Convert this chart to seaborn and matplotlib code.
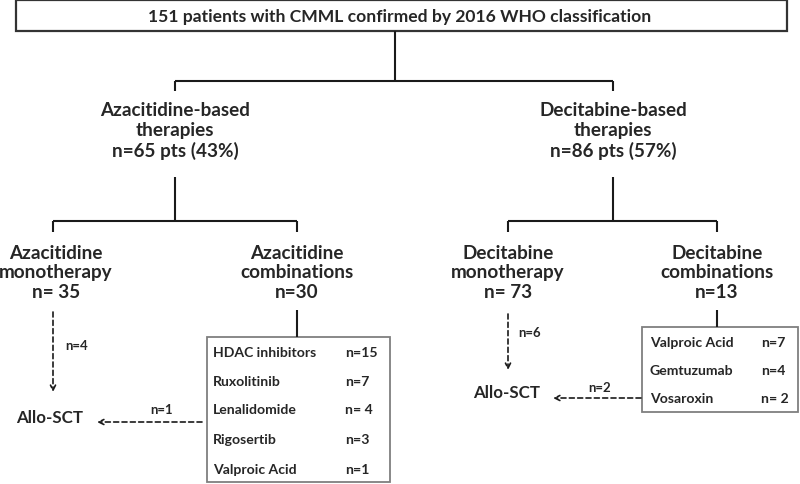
import matplotlib
matplotlib.use("Agg")
import matplotlib.pyplot as plt
import seaborn as sns
from matplotlib.patches import Rectangle

sns.set_theme(style="white")
plt.rcParams["font.family"] = ["Lato", "DejaVu Sans"]

# Datos del diagrama de flujo (CMML, clasificacion OMS 2016)
total_pts = 151
arm_names = ["Azacitidine", "Decitabine"]
arm_n = [65, 86]
arm_pct = [43, 57]
mono_n = [35, 73]
combo_n = [30, 13]
sct_from_mono = [4, 6]
sct_from_combo = [1, 2]
aza_combo_drugs = ["HDAC inhibitors", "Ruxolitinib", "Lenalidomide", "Rigosertib", "Valproic Acid"]
aza_combo_n = [15, 7, 4, 3, 1]
aza_combo_sep = ["", "", " ", "", ""]
dec_combo_drugs = ["Valproic Acid", "Gemtuzumab", "Vosaroxin"]
dec_combo_n = [7, 4, 2]
dec_combo_sep = ["", "", " "]

# Layout (coordenadas en pixeles, y hacia abajo)
arm_x = [175, 613]
mono_x = [53, 508]
mono_text_x = [56, 508]
combo_x = [297, 717]
mono_sep = [" ", " "]
combo_boxes = [(207, 338, 183, 145, 213, 345, [353, 382, 410, 440, 470]),
               (642, 328, 156, 85, 650, 761, [343, 371, 399])]
sct_pos = [(50, 418), (507, 393)]
LINE = "#1a1a1a"
TITLE = 12.6
NODE = 13.6
ALLO = 12.2
SMALL = 10.1


def line(ax, xs, ys, **kw):
    ax.plot(xs, ys, color=LINE, lw=1.5, solid_capstyle="butt", **kw)


def arrow(ax, start, end):
    ax.annotate("", xy=end, xytext=start,
                arrowprops=dict(arrowstyle="->", linestyle=(0, (3, 2)), lw=1.2,
                                color=LINE, shrinkA=0, shrinkB=0, mutation_scale=9))


def draw_flowchart():
    fig = plt.figure(figsize=(8, 4.85), dpi=100)
    ax = fig.add_axes([0, 0, 1, 1])
    ax.set_xlim(0, 800)
    ax.set_ylim(485, 0)
    ax.axis("off")

    # caja principal
    ax.add_patch(Rectangle((16, 1), 771, 31, fill=False, ec="#333333", lw=1.6))
    ax.text(400, 17, f"{total_pts} patients with CMML confirmed by 2016 WHO classification",
            ha="center", va="center", fontsize=TITLE, fontweight="bold")

    line(ax, [395, 395], [32, 82])
    line(ax, [arm_x[0], arm_x[1]], [82, 82])
    for i in range(2):
        x = arm_x[i]
        line(ax, [x, x], [82, 92])
        ax.text(x, 131, f"{arm_names[i]}-based\ntherapies\nn={arm_n[i]} pts ({arm_pct[i]}%)",
                ha="center", va="center", fontsize=NODE, fontweight="bold", linespacing=1.2)
        line(ax, [x, x], [178, 222])
        line(ax, [mono_x[i], combo_x[i]], [222, 222])
        line(ax, [mono_x[i], mono_x[i]], [222, 233])
        line(ax, [combo_x[i], combo_x[i]], [222, 233])
        ax.text(mono_text_x[i], 273, f"{arm_names[i]}\nmonotherapy\nn={mono_sep[i]}{mono_n[i]}",
                ha="center", va="center", fontsize=NODE, fontweight="bold", linespacing=1.15)
        ax.text(combo_x[i], 273, f"{arm_names[i]}\ncombinations\nn={combo_n[i]}",
                ha="center", va="center", fontsize=NODE, fontweight="bold", linespacing=1.15)

    # cajas de combinaciones
    combos = [(aza_combo_drugs, aza_combo_n, aza_combo_sep),
              (dec_combo_drugs, dec_combo_n, dec_combo_sep)]
    for i, (bx, by, bw, bh, tx, nx, rows) in enumerate(combo_boxes):
        line(ax, [combo_x[i], combo_x[i]], [311, by])
        ax.add_patch(Rectangle((bx, by), bw, bh, fill=False, ec="#7f7f7f", lw=1.3))
        drugs, counts, seps = combos[i]
        for y, d, c, s in zip(rows, drugs, counts, seps):
            ax.text(tx, y, d, ha="left", va="center", fontsize=SMALL, fontweight="bold")
            ax.text(nx, y, f"n={s}{c}", ha="left", va="center", fontsize=SMALL, fontweight="bold")

    # Allo-SCT
    for i in range(2):
        sx, sy = sct_pos[i]
        ax.text(sx, sy, "Allo-SCT", ha="center", va="center", fontsize=ALLO, fontweight="bold")

    # flechas hacia Allo-SCT
    arrow(ax, (53, 313), (53, 393))
    ax.text(65, 346, f"n={sct_from_mono[0]}", ha="left", va="center", fontsize=SMALL - 0.6, fontweight="bold")
    arrow(ax, (202, 423), (97, 423))
    ax.text(162, 410, f"n={sct_from_combo[0]}", ha="center", va="center", fontsize=SMALL - 0.6, fontweight="bold")

    arrow(ax, (508, 315), (508, 371))
    ax.text(518, 333, f"n={sct_from_mono[1]}", ha="left", va="center", fontsize=SMALL - 0.6, fontweight="bold")
    arrow(ax, (641, 399), (553, 399))
    ax.text(600, 388, f"n={sct_from_combo[1]}", ha="center", va="center", fontsize=SMALL - 0.6, fontweight="bold")

    fig.savefig("out.png", dpi=100, facecolor="white")
    plt.close(fig)


if __name__ == "__main__":
    draw_flowchart()
